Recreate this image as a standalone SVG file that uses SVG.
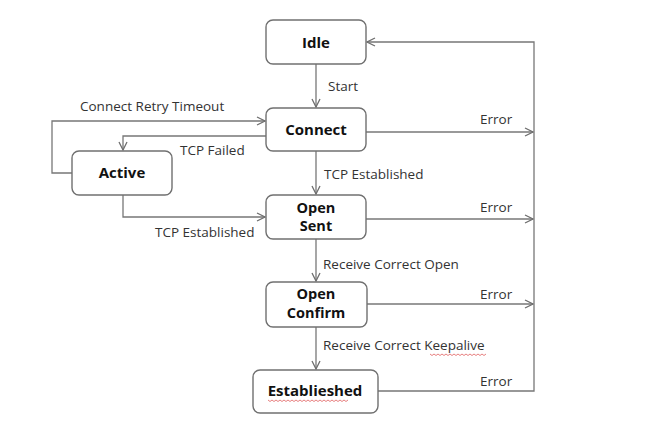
<svg xmlns="http://www.w3.org/2000/svg" width="650" height="421" viewBox="0 0 650 421">
<defs>
<marker id="arr" viewBox="0 0 10 10" refX="9" refY="5" markerWidth="10" markerHeight="10" markerUnits="userSpaceOnUse" orient="auto">
<path d="M1,1 L9,5 L1,9" fill="none" stroke="#6e6e6e" stroke-width="1.3"/>
</marker>
<style>
.box{fill:#fff;stroke:#707070;stroke-width:1.4}
.nt{font-family:"Open Sans","Noto Sans","Liberation Sans",sans-serif;font-weight:bold;font-size:15px;fill:#111;text-anchor:middle}
.nt2{font-size:14.5px}
.lb{font-family:"Open Sans","Noto Sans","Liberation Sans",sans-serif;font-size:13.5px;fill:#333}
.ln{fill:none;stroke:#777;stroke-width:1.3}
.sq{fill:none;stroke:#e06060;stroke-width:0.8}
</style>
</defs>
<rect width="650" height="421" fill="#fff"/>
<g id="connectors">
<path class="ln" d="M316,64 V107" marker-end="url(#arr)"/>
<path class="ln" d="M316,151 V194" marker-end="url(#arr)"/>
<path class="ln" d="M316,239 V281" marker-end="url(#arr)"/>
<path class="ln" d="M316,327 V369" marker-end="url(#arr)"/>
<path class="ln" d="M72,173 H52 V121 H265" marker-end="url(#arr)"/>
<path class="ln" d="M266,136 H123 V150" marker-end="url(#arr)"/>
<path class="ln" d="M123,195 V217 H265" marker-end="url(#arr)"/>
<path class="ln" d="M366,132 H533" marker-end="url(#arr)"/>
<path class="ln" d="M366,219 H533" marker-end="url(#arr)"/>
<path class="ln" d="M367,304 H533" marker-end="url(#arr)"/>
<path class="ln" d="M378,391 H534 V42 H367" marker-end="url(#arr)"/>
<text class="lb" x="328" y="91">Start</text>
<text class="lb" x="80" y="111">Connect Retry Timeout</text>
<text class="lb" x="180" y="155">TCP Failed</text>
<text class="lb" x="324" y="179">TCP Established</text>
<text class="lb" x="155" y="237">TCP Established</text>
<text class="lb" x="323" y="269">Receive Correct Open</text>
<text class="lb" x="323" y="350">Receive Correct Keepalive</text>
<path class="sq" d="M430,354 l2,1.5 l2,-1.5 l2,1.5 l2,-1.5 l2,1.5 l2,-1.5 l2,1.5 l2,-1.5 l2,1.5 l2,-1.5 l2,1.5 l2,-1.5 l2,1.5 l2,-1.5 l2,1.5 l2,-1.5 l2,1.5 l2,-1.5 l2,1.5 l2,-1.5 l2,1.5 l2,-1.5 l2,1.5 l2,-1.5 l2,1.5 l2,-1.5 l2,1.5 l2,-1.5"/>
<text class="lb" x="480" y="124">Error</text>
<text class="lb" x="480" y="212">Error</text>
<text class="lb" x="480" y="299">Error</text>
<text class="lb" x="480" y="386">Error</text>
</g>
<g id="idle"><rect class="box" x="266" y="20" width="100" height="44" rx="7"/><text class="nt" x="316" y="48">Idle</text></g>
<g id="connect"><rect class="box" x="266" y="108" width="100" height="43" rx="7"/><text class="nt" x="316" y="135">Connect</text></g>
<g id="active"><rect class="box" x="72" y="151" width="100" height="44" rx="7"/><text class="nt" x="122" y="178">Active</text></g>
<g id="opensent"><rect class="box" x="266" y="195" width="100" height="44" rx="7"/><text class="nt nt2" x="316" y="213">Open</text><text class="nt nt2" x="316" y="231">Sent</text></g>
<g id="openconfirm"><rect class="box" x="266" y="282" width="101" height="45" rx="7"/><text class="nt nt2" x="316" y="299">Open</text><text class="nt nt2" x="316" y="318">Confirm</text></g>
<g id="established"><rect class="box" x="253" y="370" width="125" height="43" rx="7"/><text class="nt" x="315" y="396">Establieshed</text>
<path class="sq" d="M268,400 l2,1.5 l2,-1.5 l2,1.5 l2,-1.5 l2,1.5 l2,-1.5 l2,1.5 l2,-1.5 l2,1.5 l2,-1.5 l2,1.5 l2,-1.5 l2,1.5 l2,-1.5 l2,1.5 l2,-1.5 l2,1.5 l2,-1.5 l2,1.5 l2,-1.5 l2,1.5 l2,-1.5 l2,1.5 l2,-1.5 l2,1.5 l2,-1.5 l2,1.5 l2,-1.5 l2,1.5 l2,-1.5 l2,1.5 l2,-1.5 l2,1.5 l2,-1.5 l2,1.5 l2,-1.5 l2,1.5 l2,-1.5 l2,1.5 l2,-1.5"/></g>
</svg>
